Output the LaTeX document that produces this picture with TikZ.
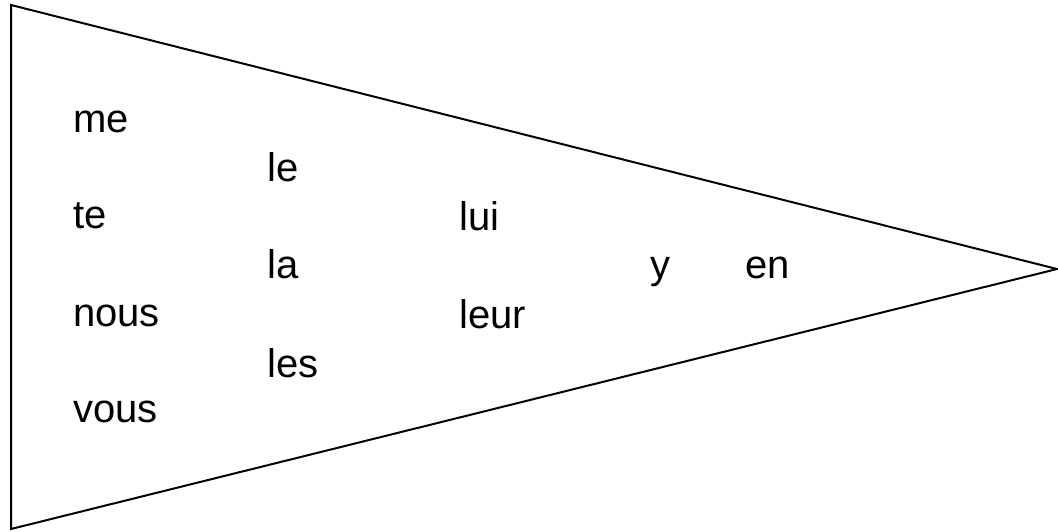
\documentclass[tikz,border=0pt]{standalone}
\usepackage{fontspec}
\setmainfont{Liberation Sans}
\usetikzlibrary{positioning}
\tikzset{pronoun/.style={rectangle,draw=none,fill=none,inner sep=0pt,anchor=base west,font=\fontsize{40}{48}\selectfont},
         pennant/.style={draw=black,line width=2pt,line join=miter}
}
\begin{document}
\begin{tikzpicture}[x=1pt,y=-1pt]
\useasboundingbox (0,0) rectangle (1058,531);
\coordinate (top) at (11,5);
\coordinate (bottom) at (11,529);
\coordinate (tip) at (1057,269);
\draw [pennant] (top) -- (tip) -- (bottom) -- cycle;
% first column
\node [pronoun] (me) at (73,132) {me};
\node [pronoun] (te) at (73,228) {te};
\node [pronoun] (nous) at (73,326) {nous};
\node [pronoun] (vous) at (73,422) {vous};
% second column
\node [pronoun] (le) at (267,181) {le};
\node [pronoun] (la) at (267,278) {la};
\node [pronoun] (les) at (267,377) {les};
% third column
\node [pronoun] (lui) at (459,230) {lui};
\node [pronoun] (leur) at (459,328) {leur};
% y and en
\node [pronoun] (y) at (650,278) {y};
\node [pronoun] (en) at (745,278) {en};
\end{tikzpicture}
\end{document}
